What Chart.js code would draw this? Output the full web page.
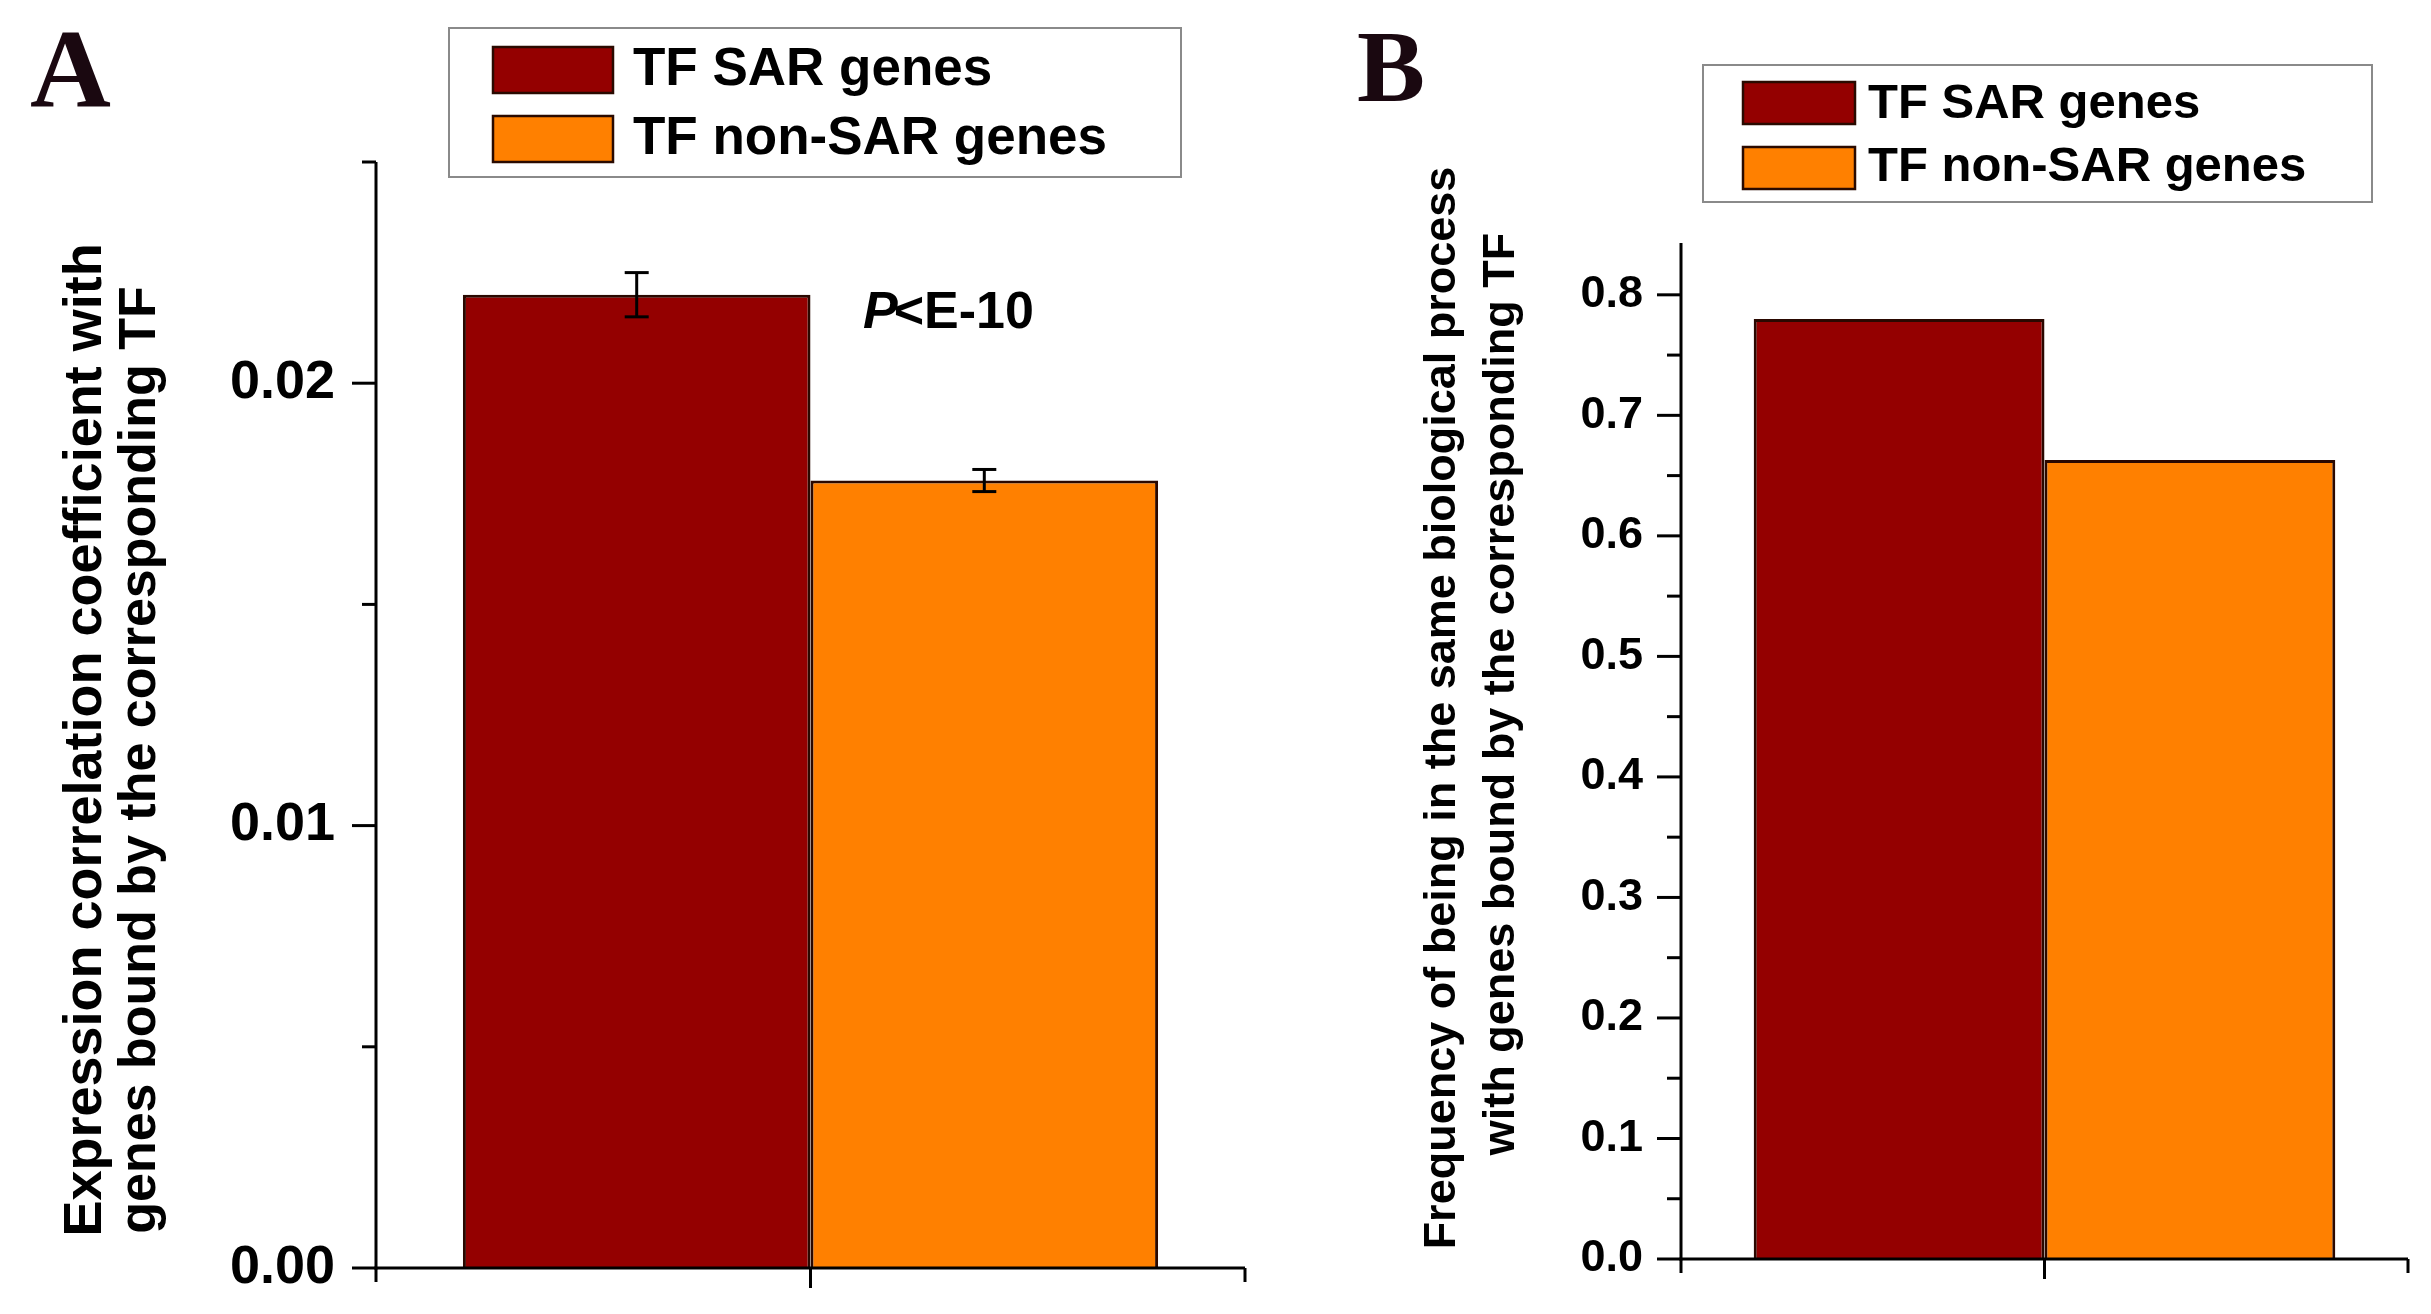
<!DOCTYPE html>
<html>
<head>
<meta charset="utf-8">
<script src="https://cdn.jsdelivr.net/npm/chart.js@4.4.1/dist/chart.umd.min.js"></script>
<style>
  html, body { margin: 0; padding: 0; background: #fff; }
  #wrap { position: relative; width: 2431px; height: 1314px; overflow: hidden; }
  .panel { position: absolute; left: 0; top: 0; width: 2431px; height: 1314px; }
</style>
</head>
<body>
<div id="wrap">
  <div class="panel"><canvas id="chartA"></canvas></div>
  <div class="panel"><canvas id="chartB"></canvas></div>
</div>
<script>
// one group on the x axis, two series side by side
const groupLabels = [""];
const seriesNames = ["TF SAR genes", "TF non-SAR genes"];
const seriesColors = ["#940000", "#ff8000"];

// A: expression correlation coefficient
const corrSar = [0.0220];
const corrNonSar = [0.0178];
const corrSarErr = [0.0005];
const corrNonSarErr = [0.00025];
const corrTitle = ["Expression correlation coefficient with", "genes bound by the corresponding TF"];

// B: frequency of same biological process
const freqSar = [0.780];
const freqNonSar = [0.663];
const freqTitle = ["Frequency of being in the same biological process", "with genes bound by the corresponding TF"];

const SANS = "'Liberation Sans', Arial, sans-serif";
const SERIF = "'Liberation Serif', 'Times New Roman', serif";

function isMajor(v, every) {
  const r = v / every;
  return Math.abs(r - Math.round(r)) < 1e-6;
}

function strokeLine(ctx, x1, y1, x2, y2) {
  ctx.beginPath();
  ctx.moveTo(x1, y1);
  ctx.lineTo(x2, y2);
  ctx.stroke();
}

// axes, error bars, legend box, titles etc.
const decor = {
  id: "decor",
  afterDatasetsDraw(chart, args, o) {
    const ctx = chart.ctx;
    const { left, right, top, bottom } = chart.chartArea;
    const y = chart.scales.y;
    const x = chart.scales.x;
    ctx.save();
    ctx.strokeStyle = "#000";
    ctx.lineWidth = 3;

    // axis lines
    strokeLine(ctx, left, top, left, bottom + 1.5);
    strokeLine(ctx, left - 1.5, bottom, right, bottom);

    // y ticks (major long, minor short)
    y.ticks.forEach(t => {
      const py = y.getPixelForValue(t.value);
      const len = isMajor(t.value, o.majorEvery) ? 24 : 14;
      strokeLine(ctx, left, py, left - len, py);
    });

    // x ticks: both ends and group centre
    strokeLine(ctx, left, bottom, left, bottom + 14);
    strokeLine(ctx, right, bottom, right, bottom + 14);
    const cx = x.getPixelForValue(0);
    strokeLine(ctx, cx, bottom, cx, bottom + 20);

    // error bars
    if (o.errors) {
      o.errors.forEach((errs, i) => {
        const meta = chart.getDatasetMeta(i);
        const vals = chart.data.datasets[i].data;
        meta.data.forEach((el, j) => {
          const yt = y.getPixelForValue(vals[j] + errs[j]);
          const yb = y.getPixelForValue(vals[j] - errs[j]);
          strokeLine(ctx, el.x, yt, el.x, yb);
          strokeLine(ctx, el.x - 12, yt, el.x + 12, yt);
          strokeLine(ctx, el.x - 12, yb, el.x + 12, yb);
        });
      });
    }

    // legend box
    const lg = o.legend;
    ctx.strokeStyle = "#8a8a8a";
    ctx.lineWidth = 2;
    ctx.strokeRect(lg.box[0], lg.box[1], lg.box[2] - lg.box[0], lg.box[3] - lg.box[1]);
    chart.data.datasets.forEach((ds, i) => {
      ctx.fillStyle = ds.backgroundColor;
      ctx.fillRect(lg.sx, lg.sy[i], lg.sw, lg.sh);
      ctx.strokeStyle = "#2a0a00";
      ctx.lineWidth = 2.5;
      ctx.strokeRect(lg.sx, lg.sy[i], lg.sw, lg.sh);
      ctx.fillStyle = "#000";
      ctx.font = lg.font;
      ctx.textAlign = "left";
      ctx.textBaseline = "middle";
      ctx.fillText(ds.label, lg.tx, lg.ty[i]);
    });

    // panel letter
    ctx.fillStyle = "#1a0810";
    ctx.font = o.letter.font;
    ctx.textAlign = "left";
    ctx.textBaseline = "alphabetic";
    ctx.fillText(o.letter.text, o.letter.x, o.letter.y);

    // y axis title, two rotated lines
    ctx.fillStyle = "#000";
    ctx.textAlign = "center";
    ctx.textBaseline = "middle";
    o.title.text.forEach((line, i) => {
      ctx.save();
      ctx.font = o.title.fonts[i];
      ctx.translate(o.title.pos[i][0], o.title.pos[i][1]);
      ctx.rotate(-Math.PI / 2);
      ctx.fillText(line, 0, 0);
      ctx.restore();
    });

    // significance note
    if (o.note) {
      ctx.textAlign = "left";
      ctx.textBaseline = "alphabetic";
      ctx.font = "italic bold " + o.note.size + "px " + SANS;
      ctx.fillText("P", o.note.x, o.note.y);
      const w = ctx.measureText("P").width;
      ctx.font = "bold " + o.note.size + "px " + SANS;
      ctx.fillText("<E-10", o.note.x + w - 4, o.note.y);
    }
    ctx.restore();
  }
};

function barDatasets(a, b) {
  return [a, b].map((vals, i) => ({
    label: seriesNames[i],
    data: vals,
    backgroundColor: seriesColors[i],
    borderColor: "#2a0800",
    borderWidth: 3,
    categoryPercentage: 0.8,
    barPercentage: 1.0
  }));
}

function makeChart(id, cfg) {
  return new Chart(document.getElementById(id), {
    type: "bar",
    data: { labels: groupLabels, datasets: cfg.datasets },
    options: {
      responsive: true,
      maintainAspectRatio: false,
      animation: false,
      devicePixelRatio: 1,
      layout: { padding: cfg.padding, autoPadding: false },
      plugins: {
        legend: { display: false },
        tooltip: { enabled: false },
        decor: cfg.decor
      },
      scales: {
        x: { display: false },
        y: {
          min: 0,
          max: cfg.yMax,
          afterFit: s => { s.width = cfg.yWidth; },
          // tick marks are drawn by the decor plugin; tickLength only spaces the labels
          grid: { display: false, drawTicks: true, tickLength: cfg.tickPad },
          border: { display: false },
          ticks: {
            stepSize: cfg.step,
            includeBounds: false,
            padding: 0,
            color: "#000",
            font: { family: SANS, weight: "bold", size: cfg.tickSize },
            callback: v => isMajor(v, cfg.majorEvery) ? v.toFixed(cfg.digits) : ""
          }
        }
      }
    },
    plugins: [decor]
  });
}

makeChart("chartA", {
  datasets: barDatasets(corrSar, corrNonSar),
  padding: { left: 0, right: 2431 - 1245, top: 162, bottom: 1314 - 1268 },
  yWidth: 376,
  yMax: 0.025,
  step: 0.005,
  majorEvery: 0.01,
  digits: 2,
  tickPad: 41,
  tickSize: 54,
  decor: {
    majorEvery: 0.01,
    errors: [corrSarErr, corrNonSarErr],
    legend: { box: [449, 28, 1181, 177], sx: 493, sw: 120, sh: 46, sy: [47, 116], tx: 633, ty: [70, 139], font: "bold 53px " + SANS },
    letter: { text: "A", x: 30, y: 107, font: "bold 112px " + SERIF },
    title: { text: corrTitle, pos: [[86, 740], [141, 760]], fonts: ["bold 54px " + SANS, "bold 52px " + SANS] },
    note: { x: 863, y: 328, size: 52 }
  }
});

makeChart("chartB", {
  datasets: barDatasets(freqSar, freqNonSar),
  padding: { left: 1400, right: 2431 - 2408, top: 243, bottom: 1314 - 1259 },
  yWidth: 281,
  yMax: 0.843,
  step: 0.05,
  majorEvery: 0.1,
  digits: 1,
  tickPad: 38,
  tickSize: 45,
  decor: {
    majorEvery: 0.1,
    legend: { box: [1703, 65, 2372, 202], sx: 1743, sw: 112, sh: 42, sy: [82, 147], tx: 1868, ty: [104, 167], font: "bold 49px " + SANS },
    letter: { text: "B", x: 1357, y: 101, font: "bold 102px " + SERIF },
    title: { text: freqTitle, pos: [[1443, 708], [1502, 694]], fonts: ["bold 45px " + SANS, "bold 45px " + SANS] }
  }
});
</script>
</body>
</html>
